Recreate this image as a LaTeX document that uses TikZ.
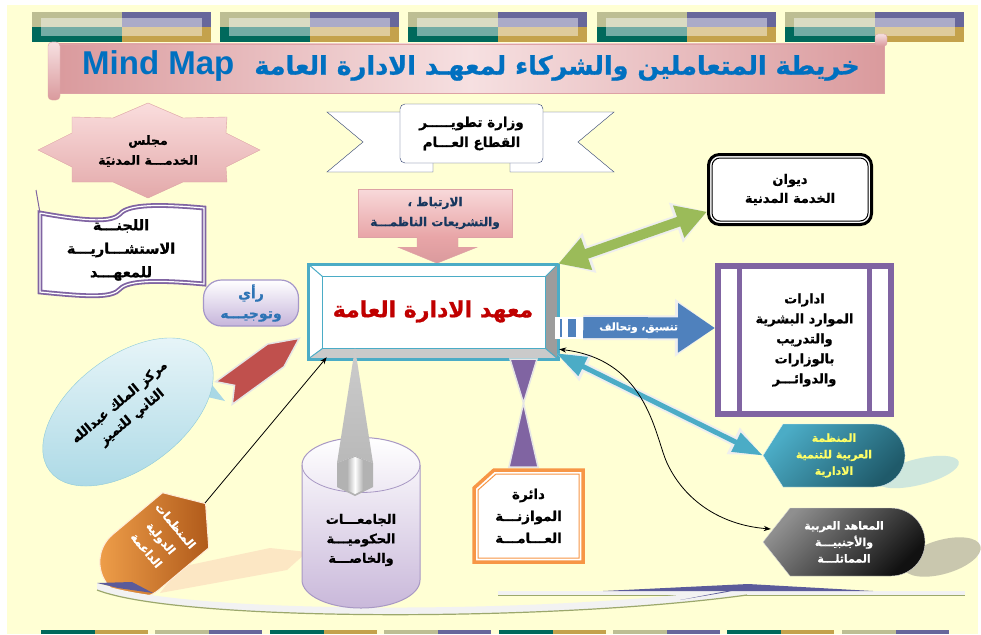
\documentclass[tikz,border=0pt]{standalone}
\usepackage{fontspec}
\setmainfont{DejaVu Sans}
\newfontfamily\arabicfont[Script=Arabic, FakeBold=0.8]{DejaVu Sans Bold}
\newfontfamily\latinfont{Liberation Sans}
\TeXXeTstate=1
\usetikzlibrary{arrows.meta,calc,positioning}
\definecolor{bgyellow}{HTML}{FFFFD4}
\definecolor{stripolive}{HTML}{BDBE93}
\definecolor{strippurple}{HTML}{67679B}
\definecolor{stripteal}{HTML}{00695C}
\definecolor{stripgold}{HTML}{C4A24C}
\definecolor{pinkdark}{HTML}{DA9A9D}
\definecolor{pinklight}{HTML}{F6E0E1}
\definecolor{pinkedge}{HTML}{DDA2A5}
\definecolor{titleblue}{HTML}{0070C0}
\definecolor{starlight}{HTML}{FADDDD}
\definecolor{stardark}{HTML}{E3A9AA}
\definecolor{ribbonnavy}{HTML}{2F3F6F}
\definecolor{wavepurple}{HTML}{8064A2}
\definecolor{pinktop}{HTML}{F8D9DA}
\definecolor{pinkbottom}{HTML}{E8A5A7}
\definecolor{linksnavy}{HTML}{17375E}
\definecolor{instteal}{HTML}{4BACC6}
\definecolor{instred}{HTML}{C00000}
\definecolor{bevelgray}{HTML}{9C9C9C}
\definecolor{bevellight}{HTML}{CACACA}
\definecolor{pillpurple}{HTML}{C6B5DB}
\definecolor{pillborder}{HTML}{A597C9}
\definecolor{pillblue}{HTML}{2E74B5}
\definecolor{arrowgreen}{HTML}{9BBB59}
\definecolor{arrowblue}{HTML}{4F81BD}
\definecolor{arrowoutline}{HTML}{EEEEEE}
\definecolor{hrpurple}{HTML}{8064A2}
\definecolor{tealA}{HTML}{4BACC6}
\definecolor{tealB}{HTML}{1F5A6A}
\definecolor{tealshadow}{HTML}{CFE7DD}
\definecolor{grayA}{HTML}{8F8F8F}
\definecolor{grayB}{HTML}{111111}
\definecolor{grayshadow}{HTML}{C9C7AE}
\definecolor{labelyellow}{HTML}{FFFF66}
\definecolor{budgetorange}{HTML}{F79646}
\definecolor{cylpurple}{HTML}{C9B8DA}
\definecolor{cylborder}{HTML}{A898C4}
\definecolor{redarrow}{HTML}{C0504D}
\definecolor{calloutlight}{HTML}{EAF6F9}
\definecolor{calloutdark}{HTML}{A9D8E5}
\definecolor{calloutborder}{HTML}{8ECBDA}
\definecolor{orangeA}{HTML}{F0A04B}
\definecolor{orangeB}{HTML}{B05A1A}
\definecolor{peach}{HTML}{FCE3C2}
\definecolor{swooshgray}{HTML}{F2F2F2}
\definecolor{swoosholive}{HTML}{9CA86C}
\definecolor{swooshnavy}{HTML}{5B5B9A}

\newcommand{\artxt}[1]{{\arabicfont\beginR #1\endR}}

\tikzset{
  % texts
  artext/.style={align=center, text=black},
  titlenode/.style={text=titleblue},
  council/.style={artext, font=\fontsize{12.5}{20}\selectfont},
  ministrybox/.style={draw=ribbonnavy, fill=white, rounded corners=5pt,
    minimum width=143pt, minimum height=59pt, artext, font=\fontsize{13.5}{20}\selectfont},
  committee/.style={artext, font=\fontsize{14.5}{23.5}\selectfont},
  linksbox/.style={draw=pinkedge, top color=pinktop, bottom color=pinkbottom,
    minimum width=154pt, minimum height=48pt, align=center, text=linksnavy,
    font=\fontsize{12}{20}\selectfont},
  diwannode/.style={draw=black, line width=3pt, rounded corners=11pt, fill=white,
    minimum width=163pt, minimum height=70pt, artext, font=\fontsize{13}{19}\selectfont},
  hrnode/.style={draw=hrpurple, line width=6pt, fill=white,
    minimum width=173pt, minimum height=148pt, artext, font=\fontsize{13}{20}\selectfont},
  instbox/.style={draw=instteal, line width=2.5pt, fill=white,
    minimum width=248pt, minimum height=93pt, text=instred, font=\fontsize{22}{26}\selectfont},
  opinion/.style={draw=pillborder, line width=1.2pt, rounded corners=18pt,
    top color=white, bottom color=pillpurple, minimum width=95pt, minimum height=46pt,
    align=center, text=pillblue, font=\fontsize{14}{20}\selectfont},
  dispnode/.style={align=center, font=\fontsize{11}{16.5}\selectfont},
  budgetnode/.style={artext, minimum width=113pt, minimum height=96pt,
    font=\fontsize{13.5}{22}\selectfont},
  univtext/.style={artext, font=\fontsize{13}{19.5}\selectfont},
  callouttext/.style={artext, font=\fontsize{13}{19.5}\selectfont},
  intltext/.style={align=center, text=white, font=\fontsize{11.5}{19}\selectfont},
  % connectors
  greenarrow/.style={draw=arrowgreen, line width=10pt,
    {Triangle[length=30pt,width=32pt]}-{Triangle[length=30pt,width=32pt]},
    preaction={draw=arrowoutline, line width=14pt,
      arrows={Triangle[length=33pt,width=40pt]-Triangle[length=33pt,width=40pt]}}},
  bluearrow/.style={draw=arrowblue, line width=21pt, -{Triangle[length=37pt,width=47pt]},
    preaction={draw=arrowoutline, line width=25pt, arrows={-Triangle[length=40pt,width=55pt]}}},
  tealarrow/.style={draw=tealA, line width=5pt,
    {Triangle[length=30pt,width=20pt]}-{Triangle[length=30pt,width=20pt]},
    preaction={draw=arrowoutline, line width=9pt,
      arrows={Triangle[length=33pt,width=27pt]-Triangle[length=33pt,width=27pt]}}},
  thinarrow/.style={draw=black, line width=0.8pt},
}

\begin{document}
\begin{tikzpicture}[x=1pt,y=-1pt]
\useasboundingbox (0,0) rectangle (981,634);
\fill[bgyellow] (7,5) rectangle (978,634);

% top strips
\foreach \bx in {32,220,408,597,785}{
  \fill[stripolive] (\bx,12) rectangle ++(90,15);
  \fill[strippurple] (\bx+90,12) rectangle ++(89,15);
  \fill[stripteal] (\bx,27) rectangle ++(90,15);
  \fill[stripgold] (\bx+90,27) rectangle ++(89,15);
  \fill[white,opacity=0.45] (\bx+9,18) rectangle ++(161,18);
}
% bottom strips
\foreach \bx in {41,270,499,727}{
  \fill[stripteal] (\bx,630) rectangle ++(54,4);
  \fill[stripgold] (\bx+54,630) rectangle ++(53,4);
}
\foreach \bx in {155,384,613,842}{
  \fill[stripolive] (\bx,630) rectangle ++(54,4);
  \fill[strippurple] (\bx+54,630) rectangle ++(53,4);
}

% title scroll
\shade[left color=pinkdark, right color=pinkdark, middle color=pinklight, draw=pinkedge] (56,44) rectangle (884,93);
\shade[top color=pinklight, bottom color=pinkdark, draw=pinkedge, rounded corners=4pt] (48,42) rectangle (60,100);
\shade[top color=pinklight, bottom color=pinkdark, draw=pinkedge, rounded corners=3pt] (875,34) rectangle (887,46);
\node[titlenode] (title) at (471,66) {{\latinfont\bfseries\fontsize{33}{36}\selectfont Mind Map}\hspace{20pt}{\fontsize{25.5}{30}\selectfont\artxt{خريطة المتعاملين والشركاء لمعهـد الادارة العامة}}};

% council star
\shade[top color=starlight, bottom color=stardark, draw=pinkedge]
  (148,103) -- (183,118) -- (227,117) -- (226,133) -- (260,150) -- (226,167) -- (227,182) -- (183,182)
  -- (148,198) -- (113,182) -- (72,182) -- (72,167) -- (38,150) -- (72,133) -- (72,117) -- (113,118) -- cycle;
\node[council] (council) at (148,151) {\artxt{مجلس}\\\artxt{الخدمـــة المدنيَة}};

% ministry ribbon
\filldraw[fill=white, draw=ribbonnavy] (405,112) -- (327,112) -- (363,142) -- (327,172) -- (433,172) -- (433,158) -- (405,158) -- cycle;
\filldraw[fill=white, draw=ribbonnavy] (538,112) -- (614,112) -- (578,142) -- (614,172) -- (510,172) -- (510,158) -- (538,158) -- cycle;
\node[ministrybox] (ministry) at (471.5,133.5) {\artxt{وزارة تطويـــــر}\\\artxt{القطاع العـــام}};

% committee wave
\filldraw[fill=white, draw=wavepurple, line width=1.8pt, double=white, double distance=1.2pt]
  (40,213) .. controls (90,222) and (112,222) .. (120,214) .. controls (128,204) and (160,204) .. (204,208)
  -- (204,284) .. controls (160,280) and (128,280) .. (120,289) .. controls (112,298) and (90,297) .. (40,292) -- cycle;
\draw[wavepurple, line width=1pt] (36,190) -- (40,213);
\node[committee] (committee) at (121,250) {\artxt{اللجنـــة}\\\artxt{الاستشـــاريـــة}\\\artxt{للمعهـــد}};

% links arrow
\node[linksbox] (links) at (435,213) {\artxt{الارتباط ،}\\\artxt{والتشريعات الناظمـــة}};
\shade[top color=pinkbottom, bottom color=pinkdark, draw=pinkedge]
  ($(links.south)+(-18,0)$) -- ($(links.south)+(-18,10)$) -- ($(links.south)+(-37,10)$) -- ($(links.south)+(2,26)$)
  -- ($(links.south)+(42,10)$) -- ($(links.south)+(23,10)$) -- ($(links.south)+(23,0)$);

% diwan
\node[diwannode] (diwan) at (790,189.5) {\artxt{ديوان}\\\artxt{الخدمة المدنية}};
\draw[line width=1pt, rounded corners=8pt] ($(diwan.north west)+(5,5)$) rectangle ($(diwan.south east)+(-5,-5)$);

% hr box
\node[hrnode] (hrbox) at (804.5,340) {\artxt{ادارات}\\\artxt{الموارد البشرية}\\\artxt{والتدريب}\\\artxt{بالوزارات}\\\artxt{والدوائـــر}};
\draw[hrpurple, line width=5pt] ($(hrbox.north west)+(24,3)$) -- ($(hrbox.south west)+(24,-3)$);
\draw[hrpurple, line width=5pt] ($(hrbox.north east)+(-25,3)$) -- ($(hrbox.south east)+(-25,-3)$);

% display shapes
\fill[tealshadow, rotate around={14:(918,472)}] (918,472) ellipse [x radius=42, y radius=13];
\fill[grayshadow, rotate around={16:(942,557)}] (942,557) ellipse [x radius=40, y radius=17];
\shade[top color=tealA, bottom color=tealB, shading angle=45, draw=white!80!tealA]
  (763,455.5) -- (783,424) -- (873.5,424) arc [start angle=270, end angle=450, radius=31.5] -- (783,487) -- cycle;
\node[dispnode, text=labelyellow, minimum width=142pt, minimum height=63pt] (arabo) at (834,455.5)
  {\artxt{المنظمة}\\\artxt{العربية للتنمية}\\\artxt{الادارية}};
\shade[top color=grayA, bottom color=grayB, shading angle=45, draw=white!70!gray]
  (763,542) -- (790,508) -- (891,508) arc [start angle=270, end angle=450, radius=34] -- (790,576) -- cycle;
\node[dispnode, text=white, minimum width=162pt, minimum height=68pt] (inst2) at (844,542)
  {\artxt{المعاهد العربية}\\\artxt{والأجنبيـــة}\\\artxt{المماثلـــة}};

% centre callout
\fill[calloutdark] (200,370) -- (225,401) -- (194,394) -- cycle;
\shade[rotate around={37:(128,412)}, top color=calloutlight, bottom color=calloutdark, draw=calloutborder]
  (128,412) ellipse [x radius=98, y radius=56];
\node[callouttext, rotate=40] (centre) at (126,410) {\artxt{مركز الملك عبدالله}\\\artxt{الثاني للتميز}};
\coordinate (centretail) at (224,393);
\begin{scope}[shift={(centretail)}, rotate=36]
  \filldraw[fill=redarrow, draw=white!90!black, line width=1.5pt]
    (0,-14) -- (64,-14) -- (93,0) -- (64,14) -- (0,14) -- (13,0) -- cycle;
\end{scope}

% supporting organisations
\fill[peach, opacity=0.85] (160,593) -- (180,567) -- (270,548) -- (307,552) -- (287,570) -- cycle;
\begin{scope}[shift={(155,546)}, rotate=-50]
  \shade[left color=orangeA, right color=orangeB, draw=white!85!orange, line width=1pt]
    (0,-66) -- (36,-40) -- (36,25) arc [start angle=0, end angle=180, radius=36] -- (-36,-40) -- cycle;
\end{scope}
\node[intltext, rotate=-50] (intl) at (161,538) {\artxt{المنظمات}\\\artxt{الدولية}\\\artxt{الداعمة}};
\coordinate (intltip) at (205,503);

% bottom swoosh
\fill[swooshgray] (498,591) rectangle (965,595);
\draw[swoosholive, line width=1.2pt] (498,595.5) -- (965,595.5);
\fill[swooshgray] (97,583) .. controls (180,615) and (550,615) .. (747,587) -- (747,595) .. controls (550,622) and (180,622) .. (97,590) -- cycle;
\draw[swoosholive, line width=1.2pt] (97,590) .. controls (180,622) and (550,622) .. (747,595);
\fill[swooshnavy] (603,591) -- (748,584) -- (873,591) -- cycle;
\fill[swooshnavy] (680,600) -- (748,587) -- (727,592) -- cycle;
\fill[swooshnavy] (97,583) -- (132,582) -- (153,593) -- (118,588) -- cycle;

% universities
\shade[top color=white, bottom color=cylpurple, draw=cylborder, line width=1pt]
  (302,465) -- (302,580) arc [start angle=180, end angle=0, x radius=59, y radius=28]
  -- (420,465) arc [start angle=0, end angle=-180, x radius=59, y radius=27.5] -- cycle;
\draw[cylborder, line width=0.8pt] (302,465) arc [start angle=180, end angle=0, x radius=59, y radius=27.5];
\node[univtext] (univ) at (361,540) {\artxt{الجامعـــات}\\\artxt{الحكوميـــة}\\\artxt{والخاصـــة}};

% budget
\filldraw[fill=white, draw=budgetorange, line width=3.5pt] (474,488) -- (494,470) -- (583,470) -- (583,562) -- (474,562) -- cycle;
\draw[budgetorange, line width=1pt] (478,490) -- (496,474) -- (579,474) -- (579,558) -- (478,558) -- cycle;
\node[budgetnode] (budget) at (528.5,516) {\artxt{دائرة}\\\artxt{الموازنـــة}\\\artxt{العـــامـــة}};

% institute
\node[instbox] (inst) at (433,311.5) {\artxt{معهد الادارة العامة}};
\coordinate (iA) at ($(inst.north west)+(15,13)$);
\coordinate (iB) at ($(inst.north east)+(-13,13)$);
\coordinate (iC) at ($(inst.south east)+(-13,-11)$);
\coordinate (iD) at ($(inst.south west)+(15,-11)$);
\fill[bevelgray] (inst.north east) -- (iB) -- (iC) -- (inst.south east) -- cycle;
\fill[bevellight] (inst.south west) -- (iD) -- (iC) -- (inst.south east) -- cycle;
\draw[instteal, line width=1pt] (iA) rectangle (iC);
\draw[instteal, line width=1pt] (inst.north west) -- (iA) (inst.north east) -- (iB)
  (inst.south east) -- (iC) (inst.south west) -- (iD);
\draw[instteal, line width=2.5pt] (inst.north west) rectangle (inst.south east);

% hourglass to budget
\filldraw[fill=hrpurple, draw=gray!20, line width=1.5pt] (510,359) -- (537,359) -- (523.5,403) -- cycle;
\filldraw[fill=hrpurple, draw=gray!20, line width=1.5pt] (523.5,403) -- (538,467) -- (509,467) -- cycle;

% spike from universities
\shade[top color=gray!40, bottom color=gray!55] (355,348) -- (373,463) -- (355,456) -- (337,463) -- cycle;
\fill[gray!60] (337,463) -- (355,456) -- (373,463) -- (373,487) -- (355,496) -- (337,487) -- cycle;
\shade[left color=gray!60, right color=gray!60, middle color=white] (347,460) -- (355,457) -- (363,460) -- (363,490) -- (355,494) -- (347,490) -- cycle;

% opinion pill
\node[opinion] (opinion) at (251,303) {\artxt{رأي}\\\artxt{وتوجيـــه}};

% connectors
\draw[greenarrow] (inst.north east) -- (diwan.195);
\draw[bluearrow] ($(inst.east)+(25,16)$) -- ($(hrbox.west)+(0,-12)$)
  node[pos=0.42, text=white, font=\fontsize{10.5}{12}\selectfont] {\artxt{تنسيق، وتحالف}};
\fill[white] ($(inst.east)+(-3,5)$) rectangle ($(inst.east)+(25,27)$);
\fill[arrowblue] ($(inst.east)+(2,7)$) rectangle ($(inst.east)+(4,25)$);
\fill[arrowblue] ($(inst.east)+(10,7)$) rectangle ($(inst.east)+(18,25)$);
\draw[tealarrow] ($(inst.south east)+(-2,-6)$) -- (arabo.west);
\draw[thinarrow, {Stealth[length=7pt]}-{Stealth[length=7pt]}] ($(inst.south east)+(1,-10)$)
  .. controls (650,360) and (655,440) .. (668,465) .. controls (685,500) and (720,525) .. ($(inst2.west)+(8,-13)$);
\draw[thinarrow, -{Stealth[length=7pt]}] (intltip) -- ($(inst.south west)+(19,-2)$);
\end{tikzpicture}
\end{document}
